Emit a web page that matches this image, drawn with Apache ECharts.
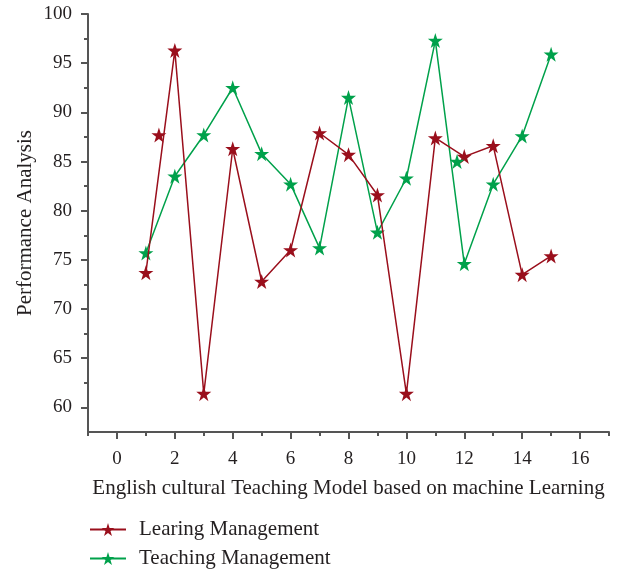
<!DOCTYPE html>
<html>
<head>
<meta charset="utf-8">
<script src="https://cdn.jsdelivr.net/npm/echarts@6/dist/echarts.min.js"></script>
<style>
html,body{margin:0;padding:0;background:#fff;}
#chart{width:627px;height:574px;}
</style>
</head>
<body>
<div id="chart"></div>
<script>
const xValues = [1, 2, 3, 4, 5, 6, 7, 8, 9, 10, 11, 12, 13, 14, 15];
const learningValues = [73.7, 96.3, 61.4, 86.3, 72.8, 76.0, 87.9, 85.7, 81.6, 61.4, 87.4, 85.5, 86.6, 73.5, 75.4];
const teachingValues = [75.7, 83.5, 87.7, 92.5, 85.8, 82.7, 76.2, 91.5, 77.8, 83.3, 97.3, 74.6, 82.7, 87.6, 95.9];
const learningExtra = [[1.45, 87.7]];
const teachingExtra = [[11.75, 85.0]];
const yMajor = [60, 65, 70, 75, 80, 85, 90, 95, 100];
const yMinor = [62.5, 67.5, 72.5, 77.5, 82.5, 87.5, 92.5, 97.5];
const xMajor = [0, 2, 4, 6, 8, 10, 12, 14, 16];
const xMinor = [-1, 1, 3, 5, 7, 9, 11, 13, 15, 17];
const seriesNames = ['Learing Management', 'Teaching Management'];

const RED = '#9a0f1c';
const GREEN = '#00a14b';
const AX = '#555555';
const TXT = '#231f20';
const FONT = 'Liberation Serif';
const STAR = 'path://M50,0 L61.8,35.1 L98.9,35.1 L68.9,56.9 L80.2,91.9 L50,70.2 L19.8,91.9 L31.1,56.9 L1.1,35.1 L38.2,35.1 Z';

const pair = (xs, ys) => xs.map((x, i) => [x, ys[i]]);

const legendBase = {
  orient: 'vertical',
  left: 84,
  itemWidth: 36,
  itemHeight: 16,
  textStyle: {fontFamily: FONT, fontSize: 21, color: TXT, padding: [0, 0, 0, 8]}
};

const chart = echarts.init(document.getElementById('chart'), null, {renderer: 'canvas'});
chart.setOption({
  animation: false,
  backgroundColor: '#ffffff',
  textStyle: {fontFamily: FONT, color: TXT},
  grid: {left: 88, right: 18, top: 14, bottom: 142, containLabel: false},
  legend: [
    Object.assign({}, legendBase, {data: [seriesNames[0]], top: 514}),
    Object.assign({}, legendBase, {data: [seriesNames[1]], top: 543})
  ],
  xAxis: [{
    type: 'value', min: -1, max: 17,
    name: 'English cultural Teaching Model based on machine Learning',
    nameLocation: 'middle', nameGap: 46,
    nameTextStyle: {fontFamily: FONT, fontSize: 21, color: TXT},
    axisLine: {show: true, onZero: false, lineStyle: {color: AX, width: 2}},
    axisTick: {show: true, inside: false, length: 7, customValues: xMajor, lineStyle: {color: AX, width: 2}},
    axisLabel: {show: true, margin: 18, fontSize: 19, fontFamily: FONT, color: TXT, customValues: xMajor},
    splitLine: {show: false}
  }, {
    type: 'value', min: -1, max: 17, position: 'bottom', offset: 0,
    axisLine: {show: false, onZero: false},
    axisTick: {show: true, inside: false, length: 4, customValues: xMinor, lineStyle: {color: AX, width: 2}},
    axisLabel: {show: false},
    splitLine: {show: false}
  }],
  yAxis: [{
    type: 'value', min: 57.5, max: 100,
    name: 'Performance Analysis',
    nameLocation: 'middle', nameGap: 52, nameMoveOverlap: false,
    nameTextStyle: {fontFamily: FONT, fontSize: 21, color: TXT},
    axisLine: {show: true, onZero: false, lineStyle: {color: AX, width: 2}},
    axisTick: {show: true, inside: false, length: 7, customValues: yMajor, lineStyle: {color: AX, width: 2}},
    axisLabel: {show: true, margin: 16, fontSize: 19, fontFamily: FONT, color: TXT, customValues: yMajor},
    splitLine: {show: false}
  }, {
    type: 'value', min: 57.5, max: 100, position: 'left', offset: 0,
    axisLine: {show: false, onZero: false},
    axisTick: {show: true, inside: false, length: 4, customValues: yMinor, lineStyle: {color: AX, width: 2}},
    axisLabel: {show: false},
    splitLine: {show: false}
  }],
  series: [{
    name: seriesNames[0], type: 'line',
    data: pair(xValues, learningValues),
    symbol: STAR, symbolSize: 15,
    lineStyle: {color: RED, width: 1.5},
    itemStyle: {color: RED, opacity: 1},
    z: 3
  }, {
    name: seriesNames[1], type: 'line',
    data: pair(xValues, teachingValues),
    symbol: STAR, symbolSize: 15,
    lineStyle: {color: GREEN, width: 1.5},
    itemStyle: {color: GREEN, opacity: 1},
    z: 2
  }, {
    name: 'learningExtra', type: 'scatter',
    data: learningExtra,
    symbol: STAR, symbolSize: 15,
    itemStyle: {color: RED, opacity: 1}, z: 3
  }, {
    name: 'teachingExtra', type: 'scatter',
    data: teachingExtra,
    symbol: STAR, symbolSize: 15,
    itemStyle: {color: GREEN, opacity: 1}, z: 3
  }]
});
</script>
</body>
</html>
